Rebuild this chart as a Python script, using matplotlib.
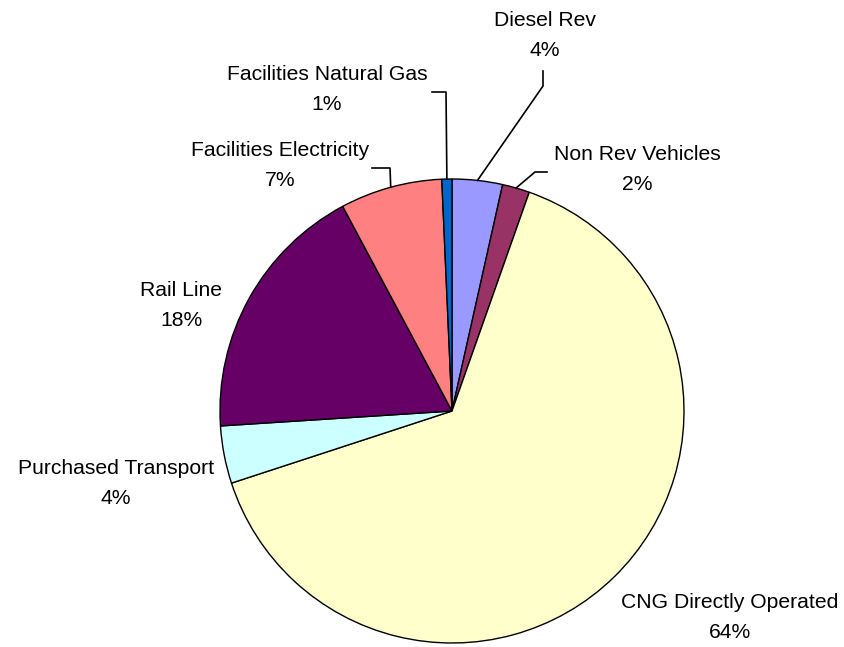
import numpy as np
import matplotlib.pyplot as plt

plt.rcParams['font.family'] = ['Liberation Sans', 'DejaVu Sans']

labels = ['Diesel Rev', 'Non Rev Vehicles', 'CNG Directly Operated',
          'Purchased Transport', 'Rail Line', 'Facilities Electricity',
          'Facilities Natural Gas']
values = [3.5, 1.9, 64.5, 4.0, 18.2, 7.1, 0.7]
pct_text = ['4%', '2%', '64%', '4%', '18%', '7%', '1%']
colors = ['#9999FF', '#993366', '#FFFFCC', '#CCFFFF', '#660066', '#FF8080', '#0066CC']

# layout in pixels (y measured from top)
W, H = 844, 647
cx, cy, R = 452, 411, 232
label_pos = [(545, 20), (637, 155), (730, 603), (116, 468),
             (181, 290), (280, 150), (327, 74)]
# leader elbows (None = no leader)
elbows = [[(543, 71), (543, 86)],
          [(547, 172), (535, 172)],
          None, None, None,
          [(372, 168), (390, 168)],
          [(432, 92), (446, 92)]]


def main():
    fig = plt.figure(figsize=(W / 100, H / 100), dpi=100)
    ax = fig.add_axes([0, 0, 1, 1])

    wedges, _ = ax.pie(values, colors=colors, startangle=90, counterclock=False,
                       center=(cx, H - cy), radius=R,
                       wedgeprops=dict(edgecolor='black', linewidth=1.0))
    ax.set_xlim(0, W)
    ax.set_ylim(0, H)
    ax.set_aspect('equal')
    ax.axis('off')

    for i, w in enumerate(wedges):
        x, y = label_pos[i]
        ax.text(x, H - y, labels[i], ha='center', va='center', fontsize=15.2)
        ax.text(x, H - y - 30, pct_text[i], ha='center', va='center', fontsize=15.2)
        if elbows[i] is not None:
            mid = np.deg2rad((w.theta1 + w.theta2) / 2)
            ex = cx + R * np.cos(mid)
            ey = (H - cy) + R * np.sin(mid)
            (x1, y1), (x2, y2) = elbows[i]
            ax.plot([x1, x2, ex], [H - y1, H - y2, ey], color='black', lw=1.2)

    fig.savefig('out.png', dpi=100)


if __name__ == "__main__":
    main()
